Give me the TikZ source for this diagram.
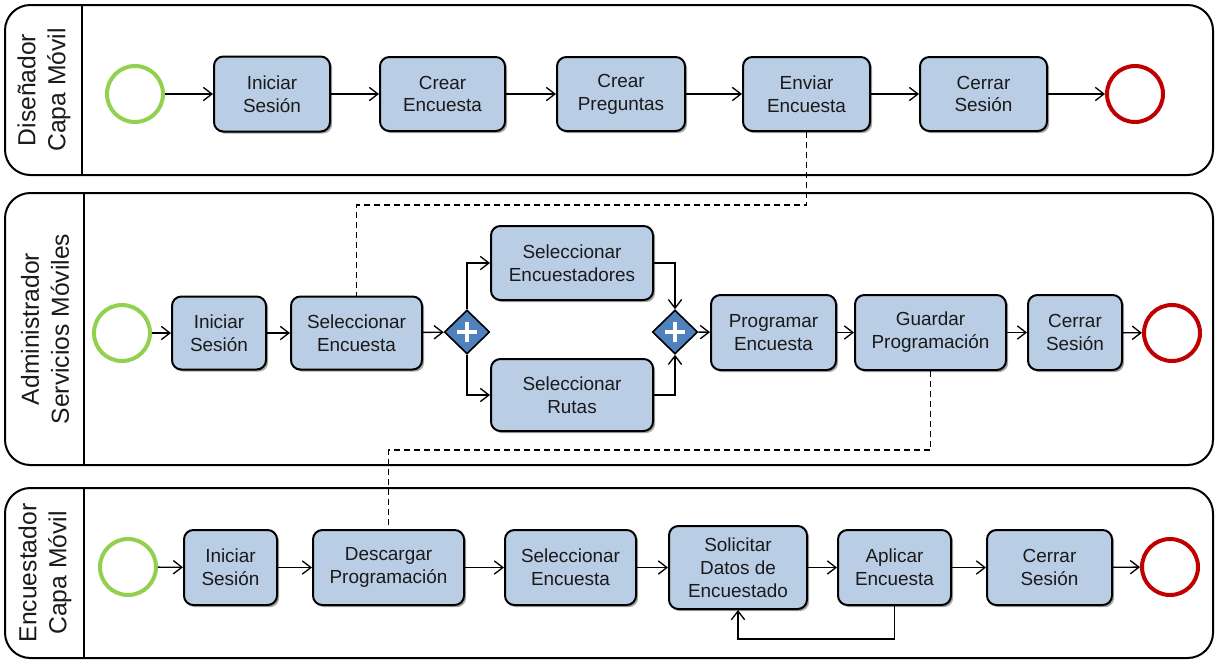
\documentclass[tikz,border=0pt]{standalone}
\usepackage{fontspec}
\setmainfont{Liberation Sans}
\usetikzlibrary{arrows.meta,shapes.geometric,shadows}

\definecolor{taskfill}{HTML}{B9CDE5}
\definecolor{gatefill}{HTML}{4F81BD}
\definecolor{startgreen}{HTML}{92D050}
\definecolor{endred}{HTML}{C00000}
\definecolor{inkc}{HTML}{1A1A1A}

\tikzset{
  lane/.style={draw=black, line width=1.5pt, rounded corners=19pt},
  lanediv/.style={draw=black, line width=1.5pt},
  lanelabel/.style={rotate=90, align=center, font=\fontsize{18.5}{22.5}\selectfont, text=inkc},
  task/.style={draw=black, fill=taskfill, line width=1.5pt, rounded corners=7pt,
    align=center, inner sep=0pt, font=\fontsize{14.2}{17.2}\selectfont, text=inkc,
    drop shadow={shadow xshift=1.6pt, shadow yshift=-1.6pt, opacity=0.35, fill=black}},
  wh/.style 2 args={minimum width=#1*0.75pt, minimum height=#2*0.75pt},
  startev/.style={circle, draw=startgreen, line width=3pt, fill=white, minimum size=42pt, inner sep=0pt},
  endev/.style={circle, draw=endred, line width=3pt, fill=white, minimum size=42pt, inner sep=0pt},
  gate/.style={diamond, draw=black, fill=gatefill, line width=1.2pt, inner sep=0pt,
    minimum width=34pt, minimum height=33pt,
    path picture={\draw[white, line width=3pt]
      (path picture bounding box.center) +(-10,0) -- +(10,0)
      (path picture bounding box.center) +(0,-10) -- +(0,10);}},
  flow/.style={draw=black, line width=1pt, -{Straight Barb[length=6.5pt, width=10pt]}},
  msg/.style={draw=black, line width=1pt, dash pattern=on 4.5pt off 3pt},
}

\begin{document}
\begin{tikzpicture}[x=0.75pt, y=-0.75pt]
\useasboundingbox (0,0) rectangle (1216,661);

% ---------- pools / lanes ----------
\draw[lane] (5,5) rectangle (1213,175);
\draw[lanediv] (82,5) -- (82,175);
\node[lanelabel] (lab1) at (44,90) {Diseñador\\Capa Móvil};

\draw[lane] (5,193) rectangle (1213,465);
\draw[lanediv] (84,193) -- (84,465);
\node[lanelabel] (lab2) at (45,329) {Administrador\\Servicios Móviles};

\draw[lane] (5,488) rectangle (1213,658);
\draw[lanediv] (84,488) -- (84,658);
\node[lanelabel] (lab3) at (45,573) {Encuestador\\Capa Móvil};

% ---------- lane 1: Diseñador ----------
\node[startev] (s1) at (135,94) {};
\node[task, wh={116}{75}] (a1) at (272,94) {Iniciar\\Sesión};
\node[task, wh={125}{74}] (b1) at (442.5,94) {Crear\\Encuesta};
\node[task, wh={128}{74}] (c1) at (621,94) {Crear\\Preguntas};
\node[task, wh={127}{74}] (d1) at (806.5,94) {Enviar\\Encuesta};
\node[task, wh={127}{74}] (e1) at (983.5,94) {Cerrar\\Sesión};
\node[endev] (f1) at (1135,94) {};

\draw[flow] (s1) -- (a1);
\draw[flow] (a1) -- (b1);
\draw[flow] (b1) -- (c1);
\draw[flow] (c1) -- (d1);
\draw[flow] (d1) -- (e1);
\draw[flow] (e1) -- (f1);

% ---------- lane 2: Administrador ----------
\node[startev] (s2) at (122,333) {};
\node[task, wh={94}{73}] (a2) at (219,333) {Iniciar\\Sesión};
\node[task, wh={131}{73}] (b2) at (356.5,333) {Seleccionar\\Encuesta};
\node[gate] (g1) at (467,332) {};
\node[task, wh={162}{74}] (c2) at (572,263) {Seleccionar\\Encuestadores};
\node[task, wh={162}{72}] (d2) at (572,395) {Seleccionar\\Rutas};
\node[gate] (g2) at (675,332) {};
\node[task, wh={125}{75}] (e2) at (773.5,332.5) {Programar\\Encuesta};
\node[task, wh={151}{75}] (f2) at (930.5,332.5) {Guardar\\Programación};
\node[task, wh={94}{75}] (h2) at (1075,332.5) {Cerrar\\Sesión};
\node[endev] (k2) at (1172,333) {};

\draw[flow] (s2) -- (a2);
\draw[flow] (a2) -- (b2);
\draw[flow] (b2) -- (g1);
\draw[flow] (g1.north) |- (c2.west);
\draw[flow] (g1.south) |- (d2.west);
\draw[flow] (c2.east) -| (g2.north);
\draw[flow] (d2.east) -| (g2.south);
\draw[flow] (g2) -- (e2);
\draw[flow] (e2) -- (f2);
\draw[flow] (f2) -- (h2);
\draw[flow] (h2) -- (k2);

% ---------- lane 3: Encuestador ----------
\node[startev] (s3) at (128,567) {};
\node[task, wh={93}{75}] (a3) at (230.5,567.5) {Iniciar\\Sesión};
\node[task, wh={151}{75}] (b3) at (388.5,567.5) {Descargar\\Programación};
\node[task, wh={131}{75}] (c3) at (570.5,567.5) {Seleccionar\\Encuesta};
\node[task, wh={138}{83}] (d3) at (738,567.5) {Solicitar\\Datos de\\Encuestado};
\node[task, wh={113}{75}] (e3) at (894.5,567.5) {Aplicar\\Encuesta};
\node[task, wh={125}{75}] (f3) at (1049.5,567.5) {Cerrar\\Sesión};
\node[endev] (k3) at (1170,567) {};

\draw[flow] (s3) -- (a3);
\draw[flow] (a3) -- (b3);
\draw[flow] (b3) -- (c3);
\draw[flow] (c3) -- (d3);
\draw[flow] (d3) -- (e3);
\draw[flow] (e3) -- (f3);
\draw[flow] (f3) -- (k3);

% repeat loop back to the data request
\coordinate (loop) at (0,639);
\draw[flow] (e3.south) -- (e3.south |- loop) -| (d3.south);

% ---------- message flows between lanes ----------
\coordinate (m1) at (0,205);
\coordinate (m2) at (0,450);
\draw[msg] (d1.south) -- (d1.south |- m1) -| (b2.north);
\draw[msg] (f2.south) -- (f2.south |- m2) -| (b3.north);
\end{tikzpicture}
\end{document}
